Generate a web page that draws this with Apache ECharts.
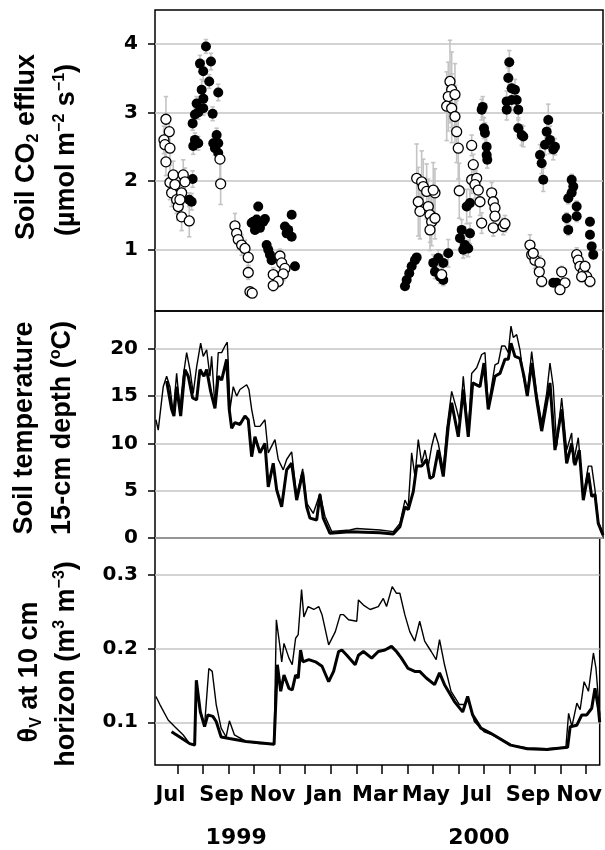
<!DOCTYPE html>
<html>
<head>
<meta charset="utf-8">
<script src="https://cdn.jsdelivr.net/npm/echarts@6/dist/echarts.min.js"></script>
<style>
  html, body { margin: 0; padding: 0; background: #fff; }
  #chart { width: 605px; height: 850px; }
</style>
</head>
<body>
<div id="chart"></div>
<script>
// x values are months since 1 Jan 1999 (6 = 1 Jul 1999, 12 = 1 Jan 2000)
const monthNames = ['Jan','Feb','Mar','Apr','May','Jun','Jul','Aug','Sep','Oct','Nov','Dec'];
const monthTicks = [6,7,8,9,10,11,12,13,14,15,16,17,18,19,20,21,22];
const monthLabels = [6,8,10,12,14,16,18,20,22];
const yearLabels = [[8.3, '1999'], [17.8, '2000']];

// soil CO2 efflux: [month, value, error]
const fluxFilled = [
  [6.583,2.03,0.12],[6.451,1.73,0.1],[6.544,1.70,0.12],[7.100,3.96,0.1],[6.867,3.71,0.12],
  [7.294,3.74,0.12],[6.995,3.60,0.15],[6.933,3.33,0.15],[7.228,3.45,0.1],[7.578,3.29,0.12],
  [6.738,3.13,0.1],[6.995,3.06,0.1],[6.672,2.97,0.1],[6.583,2.84,0.1],[7.360,2.98,0.1],
  [6.672,2.60,0.1],[6.801,2.55,0.1],[6.606,2.51,0.12],[7.516,2.67,0.1],[7.384,2.55,0.1],
  [7.578,2.55,0.1],[7.450,2.48,0.1],[7.578,2.41,0.1],[7.0,3.2,0.1],[6.8,3.0,0.1],
  [9.132,1.63,0.06],[8.876,1.39,0.06],[9.070,1.44,0.06],[9.327,1.41,0.06],[9.004,1.29,0.06],
  [9.199,1.32,0.05],[9.459,1.07,0.05],[9.521,1.00,0.05],[9.653,0.85,0.05],[9.587,0.93,0.05],
  [8.938,1.41,0.05],[9.393,1.45,0.05],
  [10.431,1.51,0.05],[10.170,1.34,0.05],[10.236,1.24,0.05],[10.431,1.19,0.05],[10.298,1.29,0.05],
  [10.559,0.76,0.05],
  [14.834,0.47,0.04],[14.900,0.56,0.04],[15.001,0.66,0.04],[15.094,0.76,0.05],[15.223,0.85,0.05],
  [15.289,0.89,0.05],
  [15.934,0.81,0.12],[16.128,0.88,0.12],[16.000,0.68,0.1],[16.194,0.61,0.1],[16.323,0.81,0.12],
  [16.517,0.95,0.2],[16.323,0.56,0.08],
  [17.232,1.63,0.25],[17.360,1.68,0.2],[17.038,1.29,0.15],[16.972,1.17,0.15],[17.166,1.07,0.15],
  [17.294,1.02,0.12],[17.100,1.00,0.12],[17.360,1.24,0.15],
  [17.854,3.08,0.15],[17.815,3.04,0.15],[17.904,2.77,0.15],[17.943,2.70,0.15],[18.009,2.50,0.15],
  [18.009,2.38,0.12],[18.033,2.31,0.12],
  [18.888,3.73,0.17],[18.849,3.50,0.15],[18.981,3.35,0.15],[19.109,3.33,0.15],[18.787,3.16,0.15],
  [18.787,3.04,0.15],[18.981,3.18,0.15],[19.175,3.18,0.15],[19.237,3.04,0.15],[19.237,2.77,0.15],
  [19.370,2.67,0.15],[19.432,2.65,0.15],
  [20.403,2.89,0.23],[20.341,2.72,0.2],[20.275,2.53,0.15],[20.469,2.60,0.2],[20.598,2.46,0.15],
  [20.081,2.38,0.15],[20.147,2.26,0.15],[20.209,2.02,0.17],[20.664,2.50,0.12],
  [20.598,0.52,0.05],[20.730,0.52,0.05],
  [21.313,2.02,0.08],[21.375,1.92,0.08],[21.313,1.83,0.08],[21.180,1.75,0.08],[21.507,1.63,0.08],
  [21.118,1.46,0.08],[21.507,1.49,0.08],[21.180,1.29,0.08],
  [22.024,1.41,0.06],[22.024,1.22,0.06],[22.090,1.05,0.06],[22.152,0.93,0.06]
];
const fluxOpen = [
  [5.545,2.90,0.33],[5.674,2.72,0.2],[5.468,2.60,0.2],[5.506,2.53,0.2],[5.701,2.48,0.2],
  [5.545,2.28,0.2],[5.701,1.98,0.25],[5.829,2.09,0.2],[5.767,1.83,0.2],[5.895,1.95,0.2],
  [5.961,1.73,0.2],[6.023,1.63,0.2],[6.155,1.48,0.2],[6.218,2.09,0.22],[6.284,1.99,0.2],
  [6.155,1.83,0.2],[6.451,1.42,0.23],[6.089,1.73,0.2],[7.644,2.32,0.28],[7.671,1.96,0.3],
  [8.227,1.35,0.18],[8.293,1.24,0.15],[8.355,1.15,0.15],[8.487,1.07,0.15],[8.616,1.02,0.12],
  [8.744,0.89,0.12],[8.744,0.67,0.1],[8.810,0.39,0.06],[8.899,0.37,0.06],
  [9.976,0.91,0.1],[10.042,0.81,0.1],[10.170,0.73,0.1],[10.104,0.65,0.1],[9.715,0.64,0.1],
  [9.910,0.54,0.08],[9.715,0.48,0.08],
  [15.289,2.04,0.5],[15.483,1.99,0.45],[15.351,1.70,0.5],[15.417,1.56,0.4],[15.545,1.92,0.4],
  [15.677,1.85,0.4],[15.740,1.63,0.4],[15.806,1.51,0.4],[15.872,1.41,0.35],[15.806,1.29,0.3],
  [16.000,1.83,0.35],[15.934,1.87,0.4],[16.000,1.46,0.3],[16.260,0.64,0.1],
  [16.583,3.45,0.6],[16.649,3.33,0.55],[16.517,3.23,0.5],[16.777,3.26,0.45],[16.455,3.09,0.5],
  [16.649,3.06,0.5],[16.777,2.94,0.45],[16.843,2.72,0.45],[16.906,2.48,0.45],[16.944,1.86,0.4],
  [17.426,2.52,0.15],[17.489,2.24,0.15],[17.426,2.02,0.2],[17.621,2.04,0.2],[17.554,1.95,0.2],
  [17.683,1.87,0.2],[17.749,1.70,0.2],[17.815,1.39,0.15],[18.204,1.83,0.15],[18.266,1.70,0.15],
  [18.332,1.61,0.15],[18.332,1.49,0.15],[18.266,1.32,0.12],[18.654,1.34,0.12],[18.720,1.38,0.12],
  [19.692,1.07,0.15],[19.758,0.93,0.12],[19.886,0.85,0.12],[20.081,0.81,0.1],[20.054,0.68,0.1],
  [20.147,0.54,0.08],[19.820,0.95,0.12],
  [20.924,0.68,0.08],[21.052,0.52,0.06],[20.858,0.42,0.06],
  [21.507,0.93,0.1],[21.569,0.85,0.1],[21.636,0.76,0.1],[21.764,0.68,0.1],[21.896,0.61,0.1],
  [22.024,0.54,0.08],[21.701,0.61,0.08],[21.830,0.76,0.08]
];

// soil temperature at 15 cm (deg C): two sensors
const tempThin = [
  [5.157,12.5],[5.246,11.4],[5.440,16.0],[5.572,17.1],[5.701,16.0],[5.829,13.2],[5.961,17.4],
  [6.089,13.6],[6.218,17.1],[6.350,19.6],[6.478,17.8],[6.606,15.3],[6.738,18.1],[6.894,20.6],
  [6.995,19.2],[7.127,19.9],[7.255,17.1],[7.321,19.2],[7.450,13.9],[7.578,19.6],[7.710,19.6],
  [7.838,20.3],[7.928,20.7],[7.967,18.5],[8.033,13.6],[8.161,16.0],[8.293,15.0],[8.421,15.7],
  [8.682,16.2],[8.771,15.7],[8.876,13.6],[9.004,11.8],[9.199,11.8],[9.393,12.5],[9.521,9.0],
  [9.782,10.4],[9.910,8.3],[10.104,7.2],[10.236,8.3],[10.431,9.1],[10.625,4.4],[10.858,7.3],
  [11.014,3.7],[11.270,2.6],[11.531,4.7],[11.725,2.3],[11.985,0.7],[12.697,0.85],[12.957,1.0],
  [13.862,0.85],[14.379,0.67],[14.640,1.55],[14.834,4.0],[14.962,3.3],[15.094,9.0],[15.223,6.5],
  [15.351,10.4],[15.483,7.9],[15.611,9.3],[15.740,7.6],[15.872,9.7],[16.000,11.1],[16.128,10.0],
  [16.323,7.2],[16.455,11.4],[16.649,15.5],[16.843,13.6],[16.972,12.2],[17.100,17.1],[17.294,11.1],
  [17.426,17.4],[17.621,18.0],[17.815,19.4],[17.943,19.6],[18.071,13.9],[18.332,18.3],[18.460,18.5],
  [18.592,20.3],[18.720,20.3],[18.849,19.6],[18.954,22.4],[19.043,21.2],[19.175,21.5],[19.304,19.9],
  [19.432,17.1],[19.587,15.1],[19.758,19.7],[19.953,15.3],[20.147,12.2],[20.341,15.3],[20.469,18.5],
  [20.598,16.0],[20.730,9.7],[20.924,14.8],[21.118,9.3],[21.313,11.1],[21.375,7.9],[21.569,10.6],
  [21.764,4.4],[21.958,7.6],[22.090,7.6],[22.218,5.1],[22.346,1.7],[22.53,0.5]
];
const tempThick = [
  [5.572,16.6],[5.767,13.6],[5.856,12.9],[5.961,16.0],[6.117,12.9],[6.284,17.8],[6.412,17.1],
  [6.583,14.8],[6.738,14.6],[6.867,17.8],[7.022,17.1],[7.127,17.8],[7.283,15.5],[7.450,13.7],
  [7.578,17.1],[7.710,16.7],[7.904,18.9],[8.005,13.6],[8.099,11.6],[8.227,12.2],[8.421,12.0],
  [8.616,12.9],[8.744,12.5],[8.876,8.6],[9.004,10.7],[9.199,9.0],[9.393,10.0],[9.521,5.4],
  [9.715,7.9],[9.848,5.1],[10.042,3.3],[10.236,7.2],[10.431,7.9],[10.625,4.0],[10.858,6.9],
  [11.014,3.3],[11.142,2.1],[11.402,1.9],[11.531,4.6],[11.659,2.1],[11.919,0.5],[12.697,0.67],
  [13.862,0.56],[14.379,0.42],[14.640,1.2],[14.834,3.3],[14.962,3.0],[15.157,4.9],[15.289,7.6],
  [15.483,7.6],[15.677,8.3],[15.806,6.3],[15.934,6.5],[16.128,9.3],[16.323,6.5],[16.517,11.8],
  [16.649,14.3],[16.906,10.7],[17.100,15.7],[17.294,10.7],[17.465,16.4],[17.749,16.0],[17.904,18.5],
  [18.071,13.6],[18.332,17.1],[18.526,17.4],[18.720,18.9],[18.849,18.9],[18.954,20.6],[19.109,19.2],
  [19.304,19.0],[19.459,17.1],[19.587,15.0],[19.758,18.5],[19.953,14.6],[20.147,11.3],[20.341,14.3],
  [20.469,16.4],[20.664,9.3],[20.924,13.6],[21.118,7.9],[21.313,10.0],[21.441,7.7],[21.608,9.3],
  [21.764,4.0],[21.958,6.9],[22.090,4.4],[22.218,4.6],[22.346,1.55],[22.53,0.3]
];

// volumetric water content at 10 cm (m3 m-3)
const moistThin = [
  [5.157,0.135],[5.312,0.124],[5.635,0.103],[5.895,0.094],[6.218,0.083],[6.478,0.071],[6.672,0.071],
  [6.738,0.155],[6.867,0.119],[7.061,0.096],[7.228,0.173],[7.360,0.169],[7.516,0.124],[7.710,0.092],
  [7.904,0.080],[8.033,0.102],[8.227,0.083],[8.682,0.074],[9.199,0.071],[9.782,0.071],[9.871,0.239],
  [10.003,0.205],[10.081,0.182],[10.170,0.207],[10.365,0.187],[10.493,0.178],[10.625,0.214],
  [10.726,0.219],[10.858,0.280],[10.948,0.243],[11.115,0.257],[11.336,0.253],[11.531,0.257],
  [11.659,0.246],[11.919,0.205],[12.180,0.223],[12.374,0.246],[12.502,0.246],[12.697,0.239],
  [13.019,0.237],[13.085,0.266],[13.280,0.259],[13.540,0.253],[13.862,0.257],[14.057,0.268],
  [14.185,0.257],[14.407,0.284],[14.574,0.275],[14.706,0.275],[14.900,0.246],[15.094,0.223],
  [15.289,0.210],[15.483,0.237],[15.677,0.210],[15.934,0.196],[16.128,0.185],[16.260,0.212],
  [16.455,0.178],[16.711,0.142],[17.038,0.124],[17.255,0.124],[17.360,0.135],[17.621,0.101],
  [18.009,0.087],[18.332,0.083],[19.043,0.069],[19.692,0.065],[20.469,0.064],[21.207,0.066],
  [21.313,0.112],[21.441,0.094],[21.636,0.126],[21.764,0.117],[21.919,0.155],[22.090,0.142],
  [22.284,0.194],[22.385,0.173],[22.53,0.110]
];
const moistThick = [
  [5.767,0.087],[6.089,0.080],[6.478,0.071],[6.672,0.069],[6.738,0.157],[6.894,0.114],[7.061,0.094],
  [7.189,0.110],[7.384,0.108],[7.516,0.101],[7.710,0.080],[8.033,0.078],[8.682,0.074],[9.782,0.070],
  [9.910,0.178],[10.042,0.142],[10.170,0.164],[10.365,0.146],[10.493,0.144],[10.625,0.164],
  [10.726,0.160],[10.819,0.198],[10.909,0.182],[11.142,0.185],[11.402,0.182],[11.659,0.176],
  [11.919,0.155],[12.113,0.169],[12.308,0.196],[12.436,0.198],[12.630,0.191],[12.957,0.178],
  [13.085,0.191],[13.280,0.196],[13.602,0.187],[13.862,0.196],[14.123,0.198],[14.379,0.203],
  [14.574,0.196],[14.768,0.187],[15.028,0.173],[15.289,0.169],[15.483,0.169],[15.740,0.160],
  [16.066,0.151],[16.260,0.167],[16.455,0.151],[16.843,0.128],[17.166,0.114],[17.360,0.135],
  [17.554,0.110],[17.877,0.092],[18.266,0.085],[19.043,0.069],[19.692,0.064],[20.469,0.063],
  [21.274,0.066],[21.375,0.094],[21.636,0.096],[21.830,0.110],[22.024,0.110],[22.218,0.119],
  [22.346,0.146],[22.478,0.119],[22.53,0.100]
];

const FONT = 'Liberation Sans, Arial, sans-serif';
const TICKFONT = 'DejaVu Sans, sans-serif';
const chart = echarts.init(document.getElementById('chart'));

const xMin = 5.12, xMax = 22.53;
const grids = [
  { left: 155, top: 10, width: 448, height: 301 },
  { left: 155, top: 311, width: 448, height: 227 },
  { left: 155, top: 538, width: 448, height: 227 }
].map(function (g) {
  return Object.assign({ show: true, borderColor: '#000', borderWidth: 1.5, containLabel: false }, g);
});

function hiddenX(i) {
  return { type: 'value', gridIndex: i, min: xMin, max: xMax, show: false, splitLine: { show: false } };
}

function yAxis(i, min, max, ticks, fmt) {
  return {
    type: 'value', gridIndex: i, min: min, max: max,
    axisLine: { show: false },
    axisTick: { show: true, inside: false, length: 7, customValues: ticks, lineStyle: { color: '#000', width: 1.5 } },
    axisLabel: { customValues: ticks, margin: 17, color: '#000', fontSize: 20, fontWeight: 'bold', fontFamily: TICKFONT, formatter: fmt },
    splitLine: { show: true, lineStyle: { color: '#c4c4c4', width: 1.5 } }
  };
}

function errorBars(data) {
  return {
    type: 'custom', xAxisIndex: 0, yAxisIndex: 0, z: 1, silent: true,
    data: data,
    renderItem: function (params, api) {
      const x = api.value(0), y = api.value(1), e = api.value(2);
      const hi = api.coord([x, y + e]), lo = api.coord([x, y - e]);
      const w = 2.2, st = { stroke: '#c4c4c4', lineWidth: 1.6 };
      return { type: 'group', children: [
        { type: 'line', shape: { x1: hi[0], y1: hi[1], x2: lo[0], y2: lo[1] }, style: st },
        { type: 'line', shape: { x1: hi[0] - w, y1: hi[1], x2: hi[0] + w, y2: hi[1] }, style: st },
        { type: 'line', shape: { x1: lo[0] - w, y1: lo[1], x2: lo[0] + w, y2: lo[1] }, style: st }
      ] };
    }
  };
}

function line(data, xi, width) {
  return {
    type: 'line', xAxisIndex: xi, yAxisIndex: xi, data: data, showSymbol: false, symbol: 'none',
    lineStyle: { color: '#000', width: width }, z: width > 2 ? 4 : 3, animation: false
  };
}

function title(text, x, y) {
  return {
    type: 'text', x: x, y: y, rotation: Math.PI / 2,
    style: {
      text: text, align: 'center', verticalAlign: 'middle', fill: '#000',
      font: 'bold 27px ' + FONT,
      rich: {
        n: { fontSize: 27, fontWeight: 'bold', fontFamily: FONT, lineHeight: 30 },
        sup: { fontSize: 16, fontWeight: 'bold', fontFamily: FONT, verticalAlign: 'top', lineHeight: 14 },
        sub: { fontSize: 16, fontWeight: 'bold', fontFamily: FONT, verticalAlign: 'bottom', lineHeight: 12 }
      }
    }
  };
}

chart.setOption({
  animation: false,
  backgroundColor: '#fff',
  grid: grids,
  xAxis: [
    hiddenX(0), hiddenX(1),
    {
      type: 'value', gridIndex: 2, min: xMin, max: xMax,
      axisLine: { show: false },
      axisTick: { show: true, length: 9, customValues: monthTicks, lineStyle: { color: '#000', width: 1.5 } },
      axisLabel: {
        customValues: monthLabels, margin: 20, color: '#000', fontSize: 21, fontWeight: 'bold', fontFamily: TICKFONT,
        padding: [0, 14, 0, 0],
        formatter: function (v) { return monthNames[Math.round(v) % 12]; }
      },
      splitLine: { show: false }
    },
    {
      type: 'value', gridIndex: 2, min: xMin, max: xMax, position: 'bottom', offset: 54,
      axisLine: { show: false }, axisTick: { show: false }, splitLine: { show: false },
      axisLabel: {
        customValues: yearLabels.map(function (d) { return d[0]; }),
        color: '#000', fontSize: 22, fontWeight: 'bold', fontFamily: TICKFONT,
        formatter: function (v) {
          const hit = yearLabels.find(function (d) { return Math.abs(d[0] - v) < 1e-6; });
          return hit ? hit[1] : '';
        }
      }
    }
  ],
  yAxis: [
    yAxis(0, 0.11, 4.49, [1, 2, 3, 4], function (v) { return String(v); }),
    yAxis(1, 0, 24, [0, 5, 10, 15, 20], function (v) { return String(v); }),
    yAxis(2, 0.042, 0.35, [0.1, 0.2, 0.3], function (v) { return v.toFixed(1); })
  ],
  graphic: [
    title('{n|Soil CO}{sub|2}{n| efflux}', 27, 147),
    title('{n|(µmol m}{sup|−2}{n| s}{sup|−1}{n|)}', 67, 150),
    title('{n|Soil temperature}', 25, 428),
    title('{n|15-cm depth (}{sup|o}{n|C)}', 63, 428),
    title('{n|θ}{sub|V}{n| at 10 cm}', 30, 672),
    title('{n|horizon (m}{sup|3}{n| m}{sup|−3}{n|)}', 67, 664)
  ],
  series: [
    errorBars(fluxFilled.concat(fluxOpen)),
    {
      type: 'scatter', xAxisIndex: 0, yAxisIndex: 0, data: fluxFilled, symbol: 'circle', symbolSize: 10,
      itemStyle: { color: '#000', opacity: 1 }, z: 2
    },
    {
      type: 'scatter', xAxisIndex: 0, yAxisIndex: 0, data: fluxOpen, symbol: 'circle', symbolSize: 10,
      itemStyle: { color: '#fff', borderColor: '#000', borderWidth: 1.3, opacity: 1 }, z: 3
    },
    line(tempThin, 1, 1.4),
    line(tempThick, 1, 3),
    line(moistThin, 2, 1.4),
    line(moistThick, 2, 3)
  ]
});
</script>
</body>
</html>
